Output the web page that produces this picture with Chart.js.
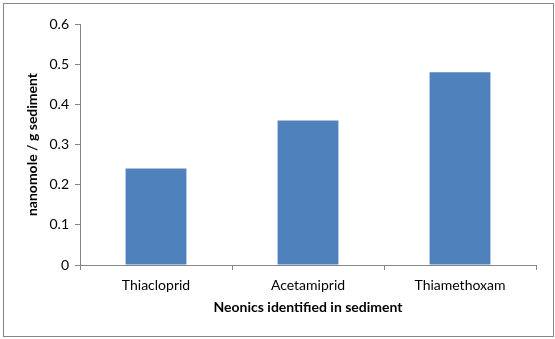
<!DOCTYPE html>
<html>
<head>
<meta charset="utf-8">
<script src="https://cdn.jsdelivr.net/npm/chart.js@4"></script>
<style>
  body { margin: 0; background: #fff; }
  #frame {
    position: absolute; left: 3px; top: 3px;
    width: 549px; height: 332px;
    border: 1px solid #868686;
  }
</style>
</head>
<body>
<div id="frame"><canvas id="neonics" width="549" height="332"></canvas></div>
<script>
// Neonicotinoids found in sediment samples
const compounds = ["Thiacloprid", "Acetamiprid", "Thiamethoxam"];
const amounts = [0.24, 0.36, 0.48];
const yTicks = [0, 0.1, 0.2, 0.3, 0.4, 0.5, 0.6];

const axisColor = "#868686";
const fontFamily = "Lato, 'Open Sans', sans-serif";

var ctx = document.getElementById("neonics").getContext("2d");
var chart = new Chart(ctx, {
    type: "bar",
    data: {
        labels: compounds,
        datasets: [{
            data: amounts,
            backgroundColor: "#4F81BD",
            borderWidth: 0,
            categoryPercentage: 1,
            barPercentage: 0.4
        }]
    },
    options: {
        responsive: false,
        animation: false,
        layout: { padding: { top: 20, right: 17, left: 0, bottom: 0 } },
        plugins: { legend: { display: false }, tooltip: { enabled: false } },
        scales: {
            x: {
                grid: { drawOnChartArea: false, color: axisColor, tickLength: 5, offset: true },
                border: { color: axisColor },
                ticks: { color: "#000", font: { family: fontFamily, size: 14 }, padding: 7, maxRotation: 0 },
                title: {
                    display: true,
                    text: "Neonics identified in sediment",
                    color: "#000",
                    font: { family: fontFamily, size: 14, weight: "bold" },
                    padding: { top: 4, bottom: 20 }
                },
                afterFit: function (scale) { scale.height = 71; }
            },
            y: {
                min: 0,
                max: 0.6,
                afterBuildTicks: function (scale) {
                    scale.ticks = yTicks.map(v => ({ value: v }));
                },
                grid: { drawOnChartArea: false, color: axisColor, tickLength: 5 },
                border: { color: axisColor },
                ticks: {
                    color: "#000",
                    font: { family: fontFamily, size: 14 },
                    padding: 6,
                    callback: v => (Math.round(v * 10) / 10).toString()
                },
                title: {
                    display: true,
                    text: "nanomole / g sediment",
                    color: "#000",
                    font: { family: fontFamily, size: 14, weight: "bold" },
                    padding: { top: 20, bottom: 4 }
                },
                afterFit: function (scale) { scale.width = 76; }
            }
        }
    }
});
</script>
</body>
</html>
